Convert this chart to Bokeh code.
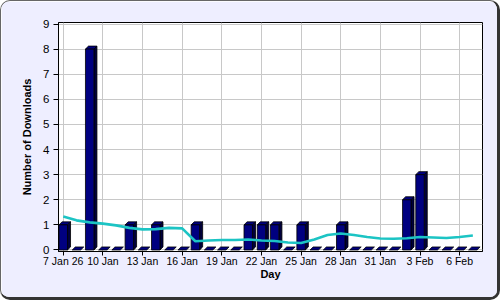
from bokeh.plotting import figure
from bokeh.models import Range1d, FixedTicker
from bokeh.embed import file_html
from bokeh.resources import INLINE

# ---- data ----
days = ["7 Jan", "8 Jan", "9 Jan", "10 Jan", "11 Jan", "12 Jan", "13 Jan", "14 Jan",
        "15 Jan", "16 Jan", "17 Jan", "18 Jan", "19 Jan", "20 Jan", "21 Jan", "22 Jan",
        "23 Jan", "24 Jan", "25 Jan", "26 Jan", "27 Jan", "28 Jan", "29 Jan", "30 Jan",
        "31 Jan", "1 Feb", "2 Feb", "3 Feb", "4 Feb", "5 Feb", "6 Feb", "7 Feb"]
downloads = [1, 0, 8, 0, 0, 1, 0, 1, 0, 0, 1, 0, 0, 0, 1, 1,
             1, 0, 1, 0, 0, 1, 0, 0, 0, 0, 2, 3, 0, 0, 0, 0]
trend = [1.33, 1.18, 1.10, 1.05, 0.98, 0.88, 0.82, 0.83, 0.88, 0.86, 0.35, 0.38,
         0.40, 0.40, 0.42, 0.38, 0.36, 0.30, 0.28, 0.42, 0.60, 0.66, 0.60, 0.52,
         0.46, 0.45, 0.47, 0.52, 0.50, 0.48, 0.52, 0.58]
tick_days = ["7 Jan", "10 Jan", "13 Jan", "16 Jan", "19 Jan", "22 Jan", "25 Jan",
             "28 Jan", "31 Jan", "3 Feb", "6 Feb"]
tick_labels = ["7 Jan 26", "10 Jan", "13 Jan", "16 Jan", "19 Jan", "22 Jan", "25 Jan",
               "28 Jan", "31 Jan", "3 Feb", "6 Feb"]
y_ticks = [0, 1, 2, 3, 4, 5, 6, 7, 8, 9]

FONT = "Liberation Sans"
x = list(range(len(days)))

p = figure(width=496, height=296, output_backend="svg", toolbar_location=None,
           x_range=Range1d(-0.36, 31.73), y_range=Range1d(-0.06, 9.06),
           min_border_left=57, min_border_right=19, min_border_top=21, min_border_bottom=50)
p.styles = {"border-style": "solid", "border-color": "#666 #333 #333 #666",
            "border-width": "1px 3px 3px 1px", "border-radius": "10px",
            "overflow": "hidden", "box-sizing": "content-box"}
p.background_fill_color = "white"
p.border_fill_color = "#EEEEFF"
p.outline_line_color = "black"
p.outline_line_width = 1

# grids
for g in (p.xgrid, p.ygrid):
    g.grid_line_color = "#C8C8C8"
    g.grid_line_width = 1

# 3D bars
w = 0.64
dx, dy = 0.23, 0.12
fronts_l = [xi - w / 2 for xi in x]
fronts_r = [xi + w / 2 for xi in x]
side_xs, side_ys, top_xs, top_ys = [], [], [], []
for xi, v in zip(x, downloads):
    l, r = xi - w / 2, xi + w / 2
    top_xs.append([l, r, r + dx, l + dx])
    top_ys.append([v, v, v + dy, v + dy])
    if v > 0:
        side_xs.append([r, r + dx, r + dx, r])
        side_ys.append([0, dy, v + dy, v])

p.patches(top_xs, top_ys, fill_color="#000080", line_color="black", line_width=0.8)
p.patches(side_xs, side_ys, fill_color="#00003C", line_color="black", line_width=0.8)
nz = [i for i, v in enumerate(downloads) if v > 0]
p.quad(left=[fronts_l[i] for i in nz], right=[fronts_r[i] for i in nz],
       bottom=0, top=[downloads[i] for i in nz],
       fill_color="#000080", line_color="black", line_width=0.8)

# trend line
p.line(x, trend, line_color="#1CC4C4", line_width=2.6)

# axes
ticks = [days.index(d) for d in tick_days]
p.xaxis.ticker = FixedTicker(ticks=ticks)
p.xaxis.major_label_overrides = {t: lab for t, lab in zip(ticks, tick_labels)}
p.yaxis.ticker = FixedTicker(ticks=y_ticks)
for ax in (p.xaxis[0], p.yaxis[0]):
    ax.axis_line_color = "black"
    ax.major_tick_line_color = "black"
    ax.major_tick_in = 0
    ax.major_tick_out = 5
    ax.minor_tick_line_color = None
    ax.major_label_text_font = FONT
    ax.major_label_text_font_size = "10.5px"
    ax.major_label_text_color = "black"
    ax.axis_label_text_font = FONT
    ax.axis_label_text_font_size = "11px"
    ax.axis_label_text_font_style = "bold"
    ax.axis_label_text_color = "black"
p.yaxis.major_label_text_font_size = "11.5px"
p.xaxis.major_tick_out = 4
p.xaxis.major_label_standoff = -1
p.xaxis.axis_label_standoff = -2
p.yaxis.major_label_standoff = 4
p.yaxis.axis_label_standoff = 7
p.xaxis.axis_label = "Day"
p.yaxis.axis_label = "Number of Downloads"

open("out.html", "w").write(file_html(p, INLINE))
